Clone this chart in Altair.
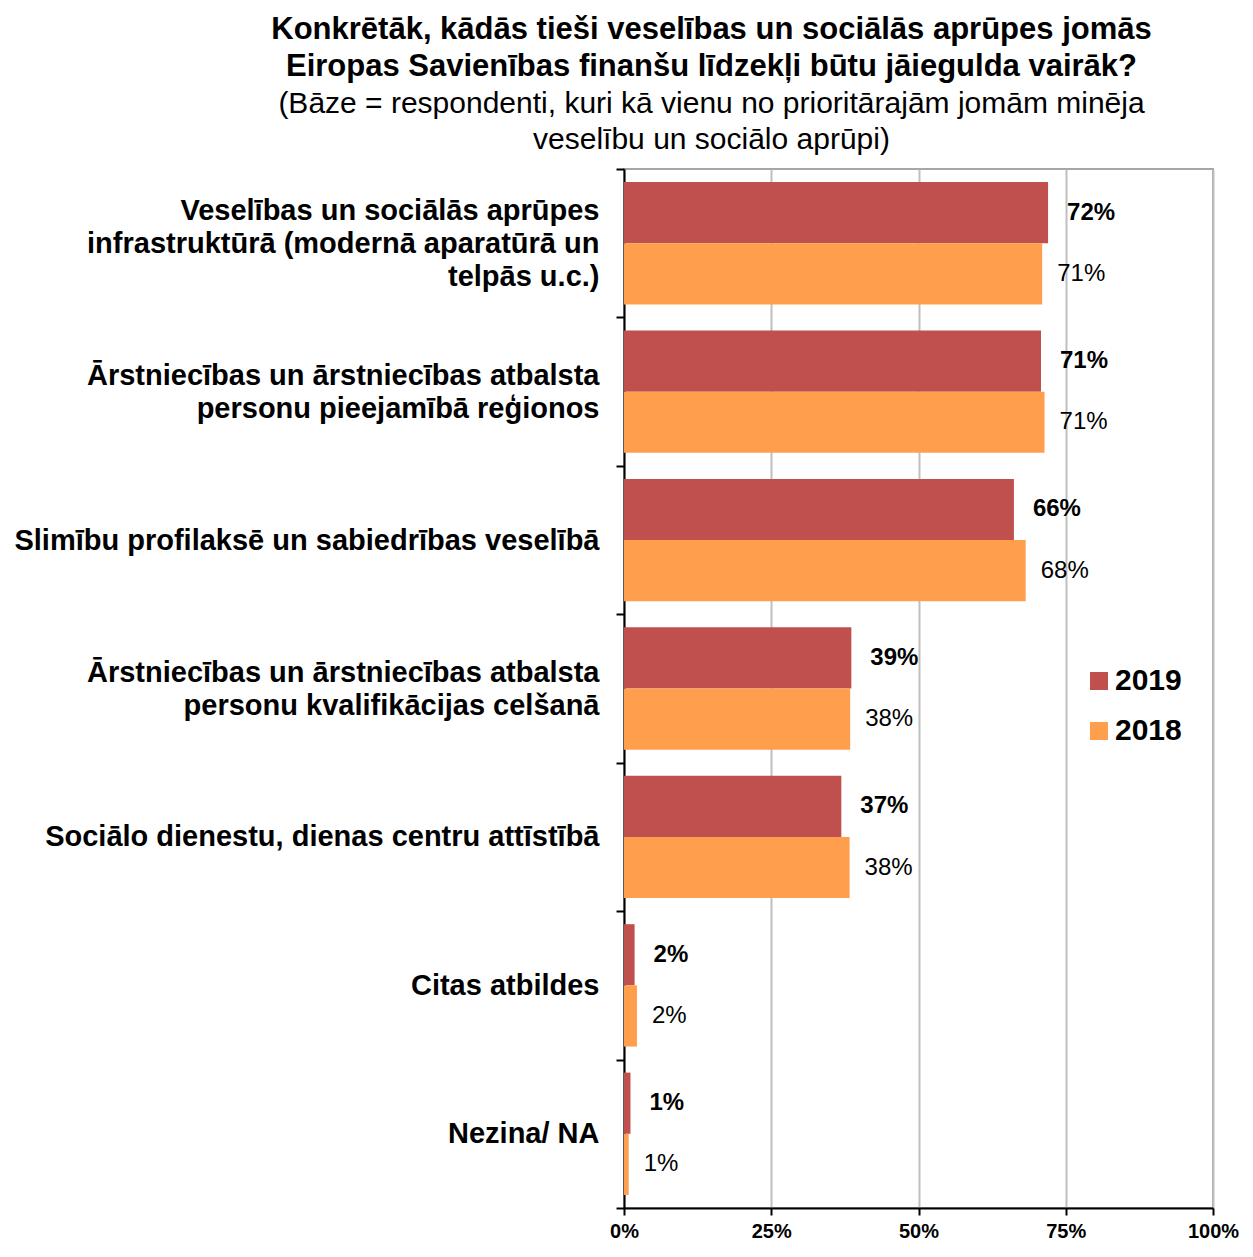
import altair as alt
import pandas as pd

categories = [
    "Veselības un sociālās aprūpes|infrastruktūrā (modernā aparatūrā un|telpās u.c.)",
    "Ārstniecības un ārstniecības atbalsta|personu pieejamībā reģionos",
    "Slimību profilaksē un sabiedrības veselībā",
    "Ārstniecības un ārstniecības atbalsta|personu kvalifikācijas celšanā",
    "Sociālo dienestu, dienas centru attīstībā",
    "Citas atbildes",
    "Nezina/ NA",
]
years = ["2019", "2018"]
values_2019 = [72.0, 70.8, 66.2, 38.6, 36.9, 1.8, 1.1]
values_2018 = [71.0, 71.4, 68.2, 38.4, 38.3, 2.2, 0.8]
colors = ["#C0504D", "#FF9F4E"]
x_ticks = [0, 25, 50, 75, 100]

title_lines = [
    "Konkrētāk, kādās tieši veselības un sociālās aprūpes jomās",
    "Eiropas Savienības finanšu līdzekļi būtu jāiegulda vairāk?",
]
subtitle_lines = [
    "(Bāze = respondenti, kuri kā vienu no prioritārajām jomām minēja",
    "veselību un sociālo aprūpi)",
]

rows = []
for c, a, b in zip(categories, values_2019, values_2018):
    rows.append({"cat": c, "year": "2019", "value": a, "label": f"{round(a)}%"})
    rows.append({"cat": c, "year": "2018", "value": b, "label": f"{round(b)}%"})
df = pd.DataFrame(rows)

FONT = "Liberation Sans"
LINE_H = 33

y_enc = alt.Y(
    "cat:N",
    sort=categories,
    title=None,
    scale=alt.Scale(paddingInner=0, paddingOuter=0),
    axis=alt.Axis(
        labelExpr="split(datum.label, '|')",
        labelFont=FONT,
        labelFontSize=29,
        labelFontWeight="bold",
        labelColor="black",
        labelLineHeight=LINE_H,
        labelPadding=17,
        labelAlign="right",
        labelBaseline="middle",
        labelLimit=800,
        labelOffset={
            "condition": [
                {"test": "length(split(datum.value, '|')) == 3", "value": -LINE_H},
                {"test": "length(split(datum.value, '|')) == 2", "value": -LINE_H / 2},
            ],
            "value": 0,
        },
        tickBand="extent",
        tickSize=8,
        tickColor="black",
        tickWidth=2,
        domainColor="black",
        domainWidth=2,
        grid=False,
    ),
)
yoff = alt.YOffset("year:N", sort=years, scale=alt.Scale(paddingInner=0, paddingOuter=0.213))
x_enc = alt.X(
    "value:Q",
    scale=alt.Scale(domain=[0, 100], nice=False),
    title=None,
    axis=alt.Axis(
        values=x_ticks,
        labelExpr="datum.value + '%'",
        labelFont=FONT,
        labelFontSize=20,
        labelFontWeight="bold",
        labelColor="black",
        labelPadding=6,
        labelFlush=False,
        labelOverlap=False,
        grid=True,
        gridColor="#BFBFBF",
        gridWidth=2,
        domainColor="black",
        domainWidth=2,
        tickColor="black",
        tickSize=7,
        tickWidth=2,
    ),
)

base = alt.Chart(df)

bars = base.mark_bar().encode(
    x=x_enc,
    y=y_enc,
    yOffset=yoff,
    color=alt.Color(
        "year:N",
        sort=years,
        scale=alt.Scale(domain=years, range=colors),
        legend=alt.Legend(
            title=None,
            orient="none",
            legendX=460,
            legendY=497,
            symbolType="square",
            symbolSize=324,
            symbolStrokeWidth=0,
            labelFont=FONT,
            labelFontSize=30,
            labelFontWeight="bold",
            labelColor="black",
            labelOffset=1,
            rowPadding=20,
        ),
    ),
)

labels_2019 = base.transform_filter("datum.year == '2019'").mark_text(
    align="left", baseline="middle", dx=19, font=FONT, fontSize=24, fontWeight="bold", color="black"
).encode(x="value:Q", y=alt.Y("cat:N", sort=categories), yOffset=yoff, text="label:N")

labels_2018 = base.transform_filter("datum.year == '2018'").mark_text(
    align="left", baseline="middle", dx=15, font=FONT, fontSize=24, fontWeight="normal", color="black"
).encode(x="value:Q", y=alt.Y("cat:N", sort=categories), yOffset=yoff, text="label:N")

chart = (
    alt.layer(bars, labels_2019, labels_2018)
    .properties(
        width=589,
        height=1039,
        padding={"left": 5, "top": 6, "right": 5, "bottom": 5},
        title=alt.TitleParams(
            text=title_lines,
            subtitle=subtitle_lines,
            font=FONT,
            fontSize=31,
            fontWeight="bold",
            lineHeight=37,
            color="black",
            subtitleFont=FONT,
            subtitleFontSize=30,
            subtitleFontWeight="normal",
            subtitleLineHeight=36,
            subtitleColor="black",
            subtitlePadding=6,
            anchor="middle",
            frame="group",
            dx=-207,
            offset=-1,
        ),
    )
    .configure_view(stroke="#A6A6A6", strokeWidth=2)
)

chart.save("out.html", embed_options={"renderer": "svg", "actions": False})
